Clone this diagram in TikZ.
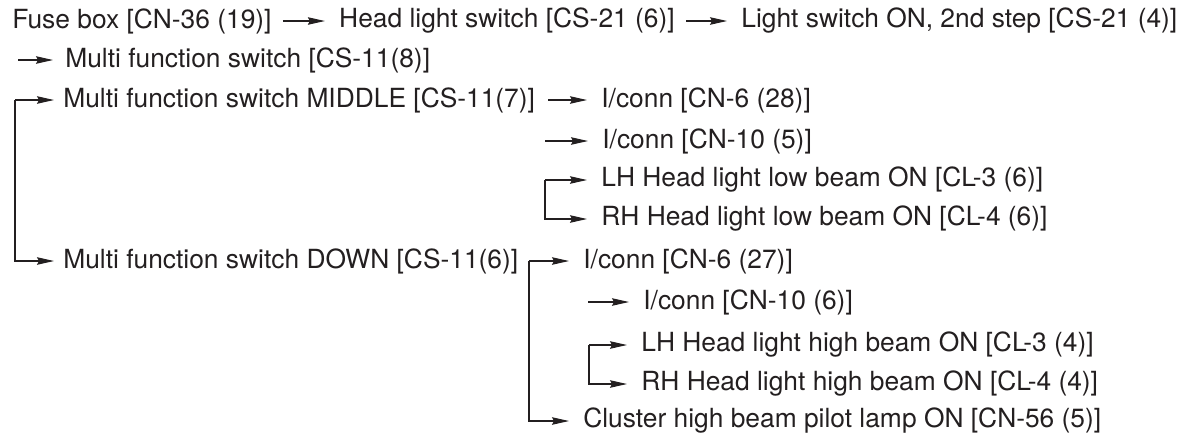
\documentclass[tikz,border=0pt]{standalone}
\usepackage{fontspec}
\setmainfont{TeX Gyre Heros}
\usetikzlibrary{arrows.meta,positioning}
\definecolor{inkgray}{HTML}{231F20}

\begin{document}
\begin{tikzpicture}[>=Stealth,
  lbl/.style={anchor=west,inner sep=0pt,text=inkgray,font=\fontsize{15}{17}\selectfont},
  a/.style={-{Stealth[length=3.4mm,width=1.5mm,inset=0.4mm]},line width=0.6pt,inkgray,
    shorten >=0.28cm},
  ch/.style={a,shorten <=0.22cm}]
\useasboundingbox (0,0) rectangle (23.56,-8.82);
% first line
\node[lbl] (fuse) at (0.24,-0.42) {Fuse box [CN-36 (19)]};
\node[lbl,right=1.34cm of fuse] (hls) {Head light switch [CS-21 (6)]};
\node[lbl,right=1.32cm of hls] (on2) {Light switch ON, 2nd step [CS-21 (4)]};
\draw[ch] (fuse)--(hls); \draw[ch] (hls)--(on2);
% multi function switch
\coordinate (mfsin) at (0.36,-1.20);
\node[lbl] (mfs) at (1.30,-1.20) {Multi function switch [CS-11(8)]};
\draw[a,shorten >=0.24cm] (mfsin)--(mfs);
\coordinate (sw) at (0.30,-2.00);
\node[lbl] (mid) at (1.26,-2.00) {Multi function switch MIDDLE [CS-11(7)]};
\node[lbl] (down) at (1.26,-5.22) {Multi function switch DOWN [CS-11(6)]};
\draw[a,shorten >=0.18cm] (sw)--(mid); \draw[a,shorten >=0.18cm] (sw)|-(down);
% low beam
\node[lbl] (cn6lo) at (12.02,-2.00) {I/conn [CN-6 (28)]};
\coordinate (cn10loin) at (10.90,-2.82);
\node[lbl] (cn10lo) at (12.04,-2.82) {I/conn [CN-10 (5)]};
\coordinate (lo) at (10.90,-3.60);
\node[lbl] (lhlo) at (12.02,-3.60) {LH Head light low beam ON [CL-3 (6)]};
\node[lbl] (rhlo) at (12.02,-4.38) {RH Head light low beam ON [CL-4 (6)]};
\draw[ch,shorten <=0.26cm] (mid)--(cn6lo); \draw[a] (cn10loin)--(cn10lo);
\draw[a] (lo)--(lhlo); \draw[a] (lo)|-(rhlo);
% high beam
\coordinate (hi) at (10.58,-5.22);
\node[lbl] (cn6hi) at (11.66,-5.22) {I/conn [CN-6 (27)]};
\coordinate (cn10hiin) at (11.76,-6.04);
\node[lbl] (cn10hi) at (12.86,-6.04) {I/conn [CN-10 (6)]};
\coordinate (hl) at (11.78,-6.90);
\node[lbl] (lhhi) at (12.82,-6.90) {LH Head light high beam ON [CL-3 (4)]};
\node[lbl] (rhhi) at (12.82,-7.68) {RH Head light high beam ON [CL-4 (4)]};
\node[lbl] (pilot) at (11.66,-8.42) {Cluster high beam pilot lamp ON [CN-56 (5)]};
\draw[a] (hi)--(cn6hi); \draw[a] (hi)|-(pilot); \draw[a] (cn10hiin)--(cn10hi);
\draw[a] (hl)--(lhhi); \draw[a] (hl)|-(rhhi);
\end{tikzpicture}
\end{document}
